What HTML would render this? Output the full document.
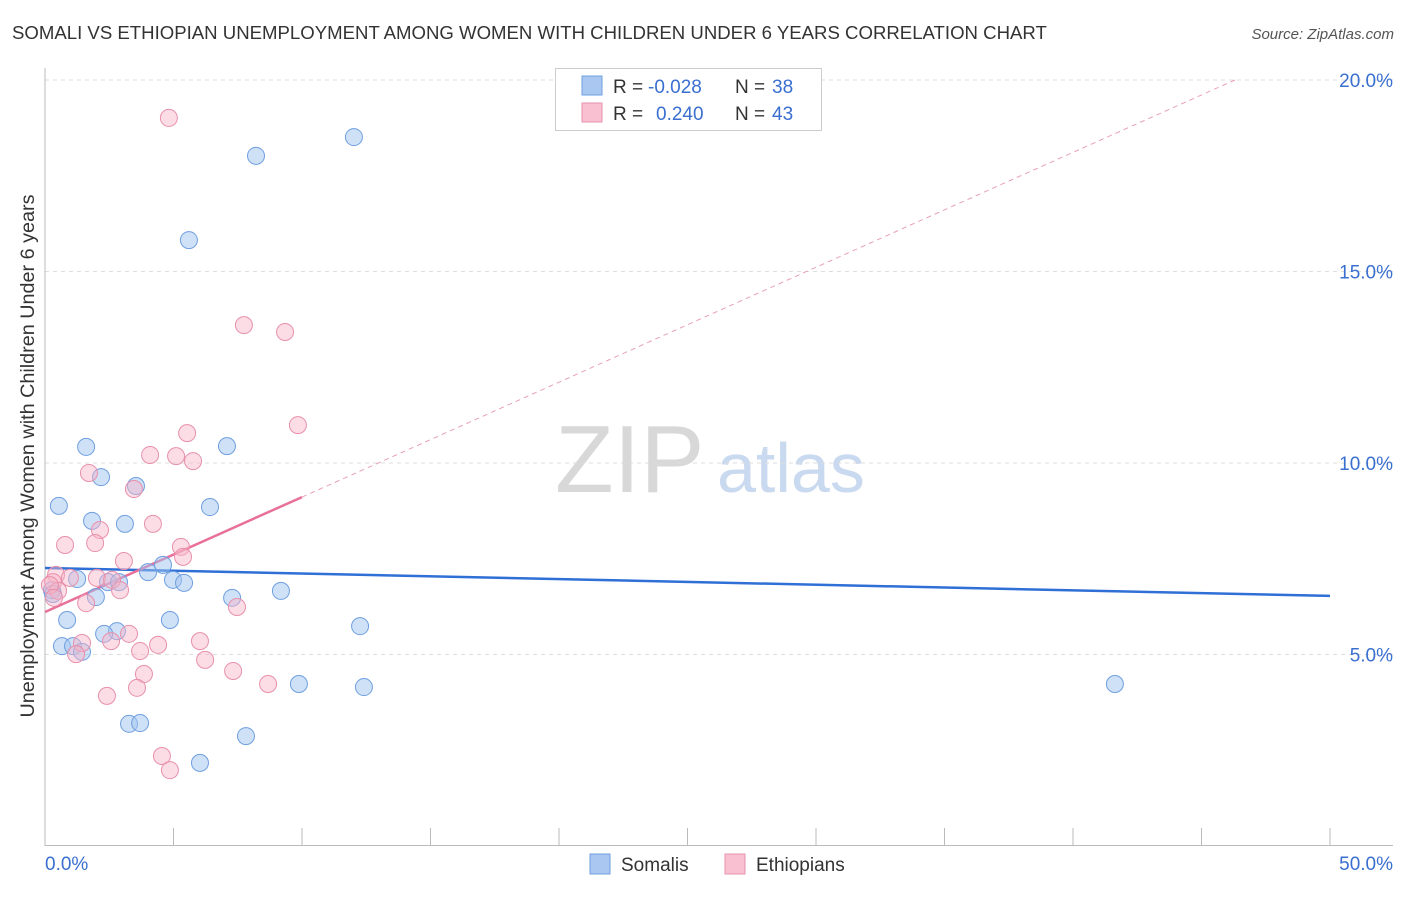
<!DOCTYPE html>
<html><head><meta charset="utf-8"><style>
body{margin:0;background:#fff;font-family:"Liberation Sans",sans-serif;}
svg text{font-family:"Liberation Sans",sans-serif;}
</style></head><body>
<svg id="chart" width="1406" height="892" viewBox="0 0 1406 892">
<text x="12" y="39" font-size="18.6" fill="#333">SOMALI VS ETHIOPIAN UNEMPLOYMENT AMONG WOMEN WITH CHILDREN UNDER 6 YEARS CORRELATION CHART</text>
<text x="1394" y="39" font-size="15" fill="#555" font-style="italic" text-anchor="end">Source: ZipAtlas.com</text>
<text x="34" y="456" font-size="19.8" fill="#333" text-anchor="middle" transform="rotate(-90 34 456)">Unemployment Among Women with Children Under 6 years</text>
<g>
<text x="555" y="492" font-size="96" fill="#d8d8d8" font-family="Liberation Serif,serif">ZIP</text>
<text x="717" y="492" font-size="70" fill="#c9d9ef">atlas</text>
</g>
<g id="grid"></g><g id="axes"></g><g id="trends"></g><g id="pts"></g>
<g>
<rect x="555.5" y="68.5" width="266" height="62" fill="#fff" stroke="#ccc"/>
<rect x="582" y="76" width="20" height="19" fill="#a9c7f0" stroke="#6f9fe0"/>
<rect x="582" y="103" width="20" height="19" fill="#f8c0d0" stroke="#e890ab"/>
<text x="613" y="93" font-size="19" fill="#333">R =</text>
<text x="648" y="93" font-size="19" fill="#3a6fd0">-0.028</text>
<text x="735" y="93" font-size="19" fill="#333">N =</text>
<text x="772" y="93" font-size="19" fill="#3a6fd0">38</text>
<text x="613" y="120" font-size="19" fill="#333">R =</text>
<text x="656" y="120" font-size="19" fill="#3a6fd0">0.240</text>
<text x="735" y="120" font-size="19" fill="#333">N =</text>
<text x="772" y="120" font-size="19" fill="#3a6fd0">43</text>
</g>
<g>
<rect x="590" y="854" width="20" height="20" fill="#a9c7f0" stroke="#6f9fe0"/>
<text x="621" y="871" font-size="19" fill="#333">Somalis</text>
<rect x="725" y="854" width="20" height="20" fill="#f8c0d0" stroke="#e890ab"/>
<text x="756" y="871" font-size="19" fill="#333">Ethiopians</text>
</g>
</svg>
<script>
const xTicks=[0,50];
const yTicks=[5,10,15,20];
const somaliX=[8.21,12.02,5.60,1.60,7.08,2.18,3.54,0.54,6.42,1.83,3.11,4.59,4.01,4.98,5.41,1.25,2.45,2.88,0.27,1.98,7.28,9.18,0.31,0.86,4.86,2.80,2.30,12.26,0.66,1.09,1.44,9.88,12.41,41.63,3.27,3.70,7.82,6.03];
const somaliY=[18.02,18.51,15.82,10.42,10.44,9.63,9.40,8.88,8.85,8.49,8.41,7.34,7.15,6.95,6.87,6.97,6.89,6.89,6.68,6.50,6.48,6.66,6.58,5.90,5.90,5.61,5.54,5.74,5.22,5.22,5.07,4.23,4.15,4.23,3.19,3.21,2.87,2.17];
const ethX=[4.82,7.74,9.34,9.84,5.53,4.09,5.10,5.76,1.71,3.46,2.14,4.20,0.78,1.95,5.29,5.37,3.07,0.43,0.97,2.02,2.61,2.92,0.31,0.51,0.19,1.60,7.47,3.27,1.44,4.40,6.03,2.57,3.70,1.21,6.23,7.32,3.85,8.68,3.58,2.41,4.55,4.86,0.35];
const ethY=[19.01,13.60,13.42,10.99,10.78,10.21,10.18,10.05,9.74,9.32,8.25,8.41,7.86,7.91,7.81,7.55,7.44,7.08,7.00,7.00,6.95,6.68,6.89,6.66,6.81,6.34,6.24,5.54,5.30,5.25,5.35,5.35,5.09,5.01,4.86,4.57,4.49,4.23,4.13,3.92,2.35,1.98,6.48];
const somaliTrend=[7.26,6.53];
const ethTrend=[6.11,0.3];
const ethSolidEnd=10;
const NS="http://www.w3.org/2000/svg";
const X=v=>45+v*25.7;
const Y=v=>846-v*38.3;
function mk(tag,attrs,parent){const e=document.createElementNS(NS,tag);for(const k in attrs)e.setAttribute(k,attrs[k]);document.getElementById(parent).appendChild(e);return e;}
yTicks.forEach(t=>{
 const l=mk('line',{x1:45,x2:1393,y1:Y(t),y2:Y(t),stroke:'#ddd','stroke-dasharray':'4 4'},'grid');
 
 
 const tx=mk('text',{x:1393,y:Y(t)+7,'font-size':19,fill:'#3a6fd0','text-anchor':'end'},'grid');
 tx.textContent=t.toFixed(1)+'%';
 
 
});
let a=mk('line',{x1:45,x2:45,y1:68,y2:846,stroke:'#bbb'},'axes');


a=mk('line',{x1:45,x2:1393,y1:845.5,y2:845.5,stroke:'#bbb'},'axes');


for(let i=1;i<=10;i++){
 const t=mk('line',{x1:X(i*5),x2:X(i*5),y1:828,y2:846,stroke:'#bbb'},'axes');
 
 
}
xTicks.forEach((t,i)=>{
 const tx=mk('text',{x:i?1393:45,y:870,'font-size':19,fill:'#3a6fd0','text-anchor':i?'end':'start'},'axes');
 tx.textContent=t.toFixed(1)+'%';
 
 
});
somaliX.forEach((x,i)=>{
 const c=mk('circle',{cx:X(x),cy:Y(somaliY[i]),r:8.5,fill:'rgba(160,195,240,0.5)',stroke:'#6f9fe0','stroke-width':1},'pts');
 
 
});
ethX.forEach((x,i)=>{
 const c=mk('circle',{cx:X(x),cy:Y(ethY[i]),r:8.5,fill:'rgba(248,180,200,0.45)',stroke:'#e890ab','stroke-width':1},'pts');
 
 
});
let tl=mk('line',{x1:X(0),y1:Y(somaliTrend[0]),x2:X(50),y2:Y(somaliTrend[1]),stroke:'#2f6fd6','stroke-width':2.5},'trends');


const eAt=x=>ethTrend[0]+ethTrend[1]*x;
tl=mk('line',{x1:X(0),y1:Y(eAt(0)),x2:X(ethSolidEnd),y2:Y(eAt(ethSolidEnd)),stroke:'#e8709a','stroke-width':2.5},'trends');


const xEnd=(20.0-ethTrend[0])/ethTrend[1];
tl=mk('line',{x1:X(ethSolidEnd),y1:Y(eAt(ethSolidEnd)),x2:X(xEnd),y2:Y(eAt(xEnd)),stroke:'#e8a0b8','stroke-width':1,'stroke-dasharray':'5 4'},'trends');


</script>
</body></html>
